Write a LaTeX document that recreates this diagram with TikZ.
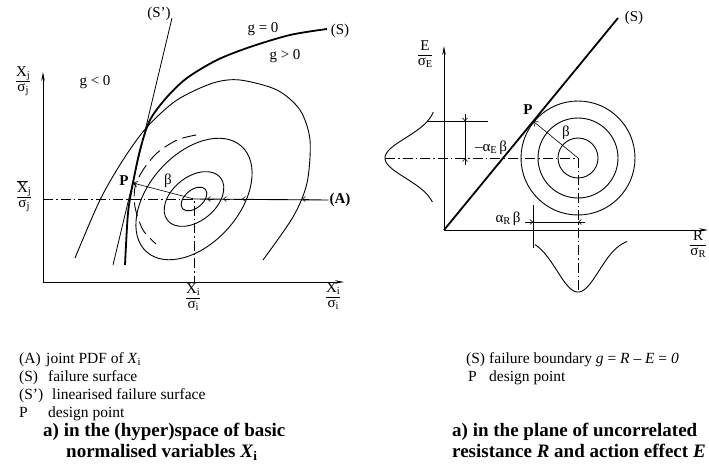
\documentclass[tikz,border=0pt]{standalone}
\usepackage{fontspec}
\setmainfont{Liberation Serif}
\usetikzlibrary{arrows.meta,calc}
\newcommand{\ratio}[2]{\renewcommand{\arraystretch}{0.85}\begin{tabular}{@{}c@{}}#1\\\hline #2\end{tabular}}
\newcommand{\meanof}[1]{$\overline{\mbox{#1}}$}
\newcommand{\lowidx}[1]{\raisebox{-0.3ex}{\fontsize{10.5}{12}\selectfont #1}}

\begin{document}
\begin{tikzpicture}[x=1pt, y=-1pt, font=\fontsize{15}{17}\selectfont,
    axis/.style={line width=0.8pt, -{Stealth[length=9pt, width=3.5pt]}},
    contour/.style={line width=0.9pt},
    limit/.style={line width=1.8pt},
    guide/.style={line width=0.6pt, dash pattern=on 10pt off 3pt on 1.5pt off 3pt},
    ref/.style={line width=0.6pt},
    tip/.style={line width=0.6pt, -{Straight Barb[length=3pt, width=5pt]}},
    lbl/.style={inner sep=1pt},
    heavy/.style={font=\bfseries\fontsize{15}{17}\selectfont},
    frac/.style={inner sep=0pt, font=\fontsize{15}{17}\selectfont},
    listtext/.style={anchor=base west, inner sep=0pt, font=\fontsize{15.5}{18}\selectfont},
    caption/.style={anchor=base west, inner sep=0pt, font=\bfseries\fontsize{19}{22}\selectfont}]
  \useasboundingbox (0,0) rectangle (709,466);

  % left: space of the normalised variables
  \coordinate (O1) at (43,282);
  \coordinate (Y1) at (43,72);
  \coordinate (X1) at (344,282);
  \coordinate (C1) at (194,199);
  \coordinate (P1) at (133,183);
  \coordinate (Sa) at (113,265);
  \coordinate (Sb) at (172,18);
  \draw[axis] (O1) -- (Y1);
  \draw[axis] (O1) -- (X1);
  \draw[guide] (O1 |- C1) -- (C1) -- (C1 |- O1);
  \foreach \a/\b/\r in {15/9/40, 34/22/39, 71/45/48}
    \draw[contour, rotate around={\r:(C1)}] (C1) ellipse ({\a} and {\b});
  \draw[contour, dash pattern=on 14pt off 6pt] plot[smooth] coordinates {(196,135) (177,140) (157,153) (143,170) (135,187) (135,207) (143,230) (156,244)};
  \draw[contour] plot[smooth] coordinates {(75,258) (100,200) (123,160) (147,127) (177,100) (213,83) (240,80) (277,90) (300,110) (310,140) (307,183) (293,217) (263,260)};
  \draw[limit] plot[smooth] coordinates {(125,265) (128,213) (133,183) (140,150) (150,120) (167,97) (187,78) (217,60) (250,47) (290,35) (327,29)};
  \draw[line width=0.8pt] (Sa) -- (Sb);
  \node[lbl, heavy] (Alab) at (340,200) {(A)};
  \draw[contour] (Alab.west) -- (C1);
  \foreach \x in {207,223,242,302}
    \draw[tip] (\x+7,199) -- (\x,199);
  \draw[ref, -{Straight Barb[length=4pt, width=6pt]}] (C1) -- (P1);
  \node[lbl] (gneg) at (95,82) {g < 0};
  \node[lbl] (gzero) at (263,29) {g = 0};
  \node[lbl] (gpos) at (285,56) {g > 0};
  \node[lbl] (Slab1) at (340,31) {(S)};
  \node[lbl] (Sprime) at (159,14) {(S’)};
  \node[lbl, heavy] (Plab1) at (124,181) {P};
  \node[fill=white, inner sep=0.5pt] (beta1) at (168,181) {β};
  \node[frac] (Xj) at (23,81) {\ratio{X\lowidx{j}}{σ\lowidx{j}}};
  \node[frac] (Xjm) at (24,196) {\ratio{\meanof{X}\lowidx{j}}{σ\lowidx{j}}};
  \node[frac] (Xim) at (193,297) {\ratio{\meanof{X}\lowidx{i}}{σ\lowidx{i}}};
  \node[frac] (Xi) at (333,297) {\ratio{X\lowidx{i}}{σ\lowidx{i}}};

  % right: plane of R and E
  \coordinate (O2) at (444,230);
  \coordinate (Y2) at (444,46);
  \coordinate (X2) at (708,230);
  \coordinate (C2) at (578,158);
  \coordinate (S2) at (618,18);
  \coordinate (P2) at ($(O2)!(C2)!(S2)$);
  \coordinate (EL) at (385,158);
  \coordinate (RL) at (578,292);
  \coordinate (dE) at (465,0);
  \coordinate (dR) at (0,222);
  \draw[axis] (O2) -- (Y2);
  \draw[axis] (O2) -- (X2);
  \foreach \r in {20,40,57}
    \draw[contour] (C2) circle[radius=\r];
  \draw[limit] (O2) -- (S2);
  \draw[guide] (EL) -- (C2) -- (RL);
  \draw[contour] plot[domain=112:202, samples=60] ({437-52*exp(-0.5*((\x-158)/20)*((\x-158)/20))}, \x);
  \draw[contour] plot[domain=535:627, samples=60] (\x, {238+54*exp(-0.5*((\x-578)/21)*((\x-578)/21))});
  \draw[ref] ([xshift=-106pt]P2) -- ([xshift=-45pt]P2);
  \draw[ref] ([yshift=-84pt]P2) -- ([yshift=-127pt]P2);
  \draw[ref] ($(dE |- P2)+(0,-6)$) -- ($(dE |- C2)+(0,6)$);
  \draw[tip] ($(dE |- P2)+(0,-7)$) -- (dE |- P2);
  \draw[tip] ($(dE |- C2)+(0,7)$) -- (dE |- C2);
  \draw[ref] ($(P2 |- dR)+(-8,0)$) -- ($(C2 |- dR)+(3,0)$);
  \draw[tip] ($(P2 |- dR)+(-7,0)$) -- (P2 |- dR);
  \draw[tip] ($(C2 |- dR)+(7,0)$) -- (C2 |- dR);
  \draw[ref, -{Straight Barb[length=4pt, width=6pt]}] (C2) -- (P2);
  \node[lbl] (Slab2) at (634,18) {(S)};
  \node[lbl, heavy] (Plab2) at (528,110) {P};
  \node[lbl] (beta2) at (566,133) {β};
  \node[lbl] (aE) at (491,148) {–α\lowidx{E}\,β};
  \node[lbl] (aR) at (508,219) {α\lowidx{R}\,β};
  \node[frac] (Es) at (425,55) {\ratio{E}{σ\lowidx{E}}};
  \node[frac] (Rs) at (698,245) {\ratio{R}{σ\lowidx{R}}};

  % keys and captions
  \foreach \y/\key/\dx/\desc in {363/{(A)}/46/{joint PDF of \textit{X}\textsubscript{i}},
      381/{(S)}/48/{failure surface}, 399/{(S’)}/52/{linearised failure surface},
      417/P/48/{design point}} {
    \node[listtext] (key\y) at (19,\y) {\key};
    \node[listtext] (desc\y) at (\dx,\y) {\desc};
  }
  \node[listtext] (keyS) at (466,363) {(S)};
  \node[listtext] (descS) at (489,363) {failure boundary \textit{g} = \textit{R} – \textit{E} = \textit{0}};
  \node[listtext] (keyP) at (468,381) {P};
  \node[listtext] (descP) at (489,381) {design point};
  \node[caption] (capL1) at (43,436) {a) in the (hyper)space of basic};
  \node[caption] (capL2) at (66,457) {normalised variables \textit{X}\textsubscript{i}};
  \node[caption] (capR1) at (452,436) {a) in the plane of uncorrelated};
  \node[caption] (capR2) at (452,457) {resistance \textit{R} and action effect \textit{E}};
\end{tikzpicture}
\end{document}
